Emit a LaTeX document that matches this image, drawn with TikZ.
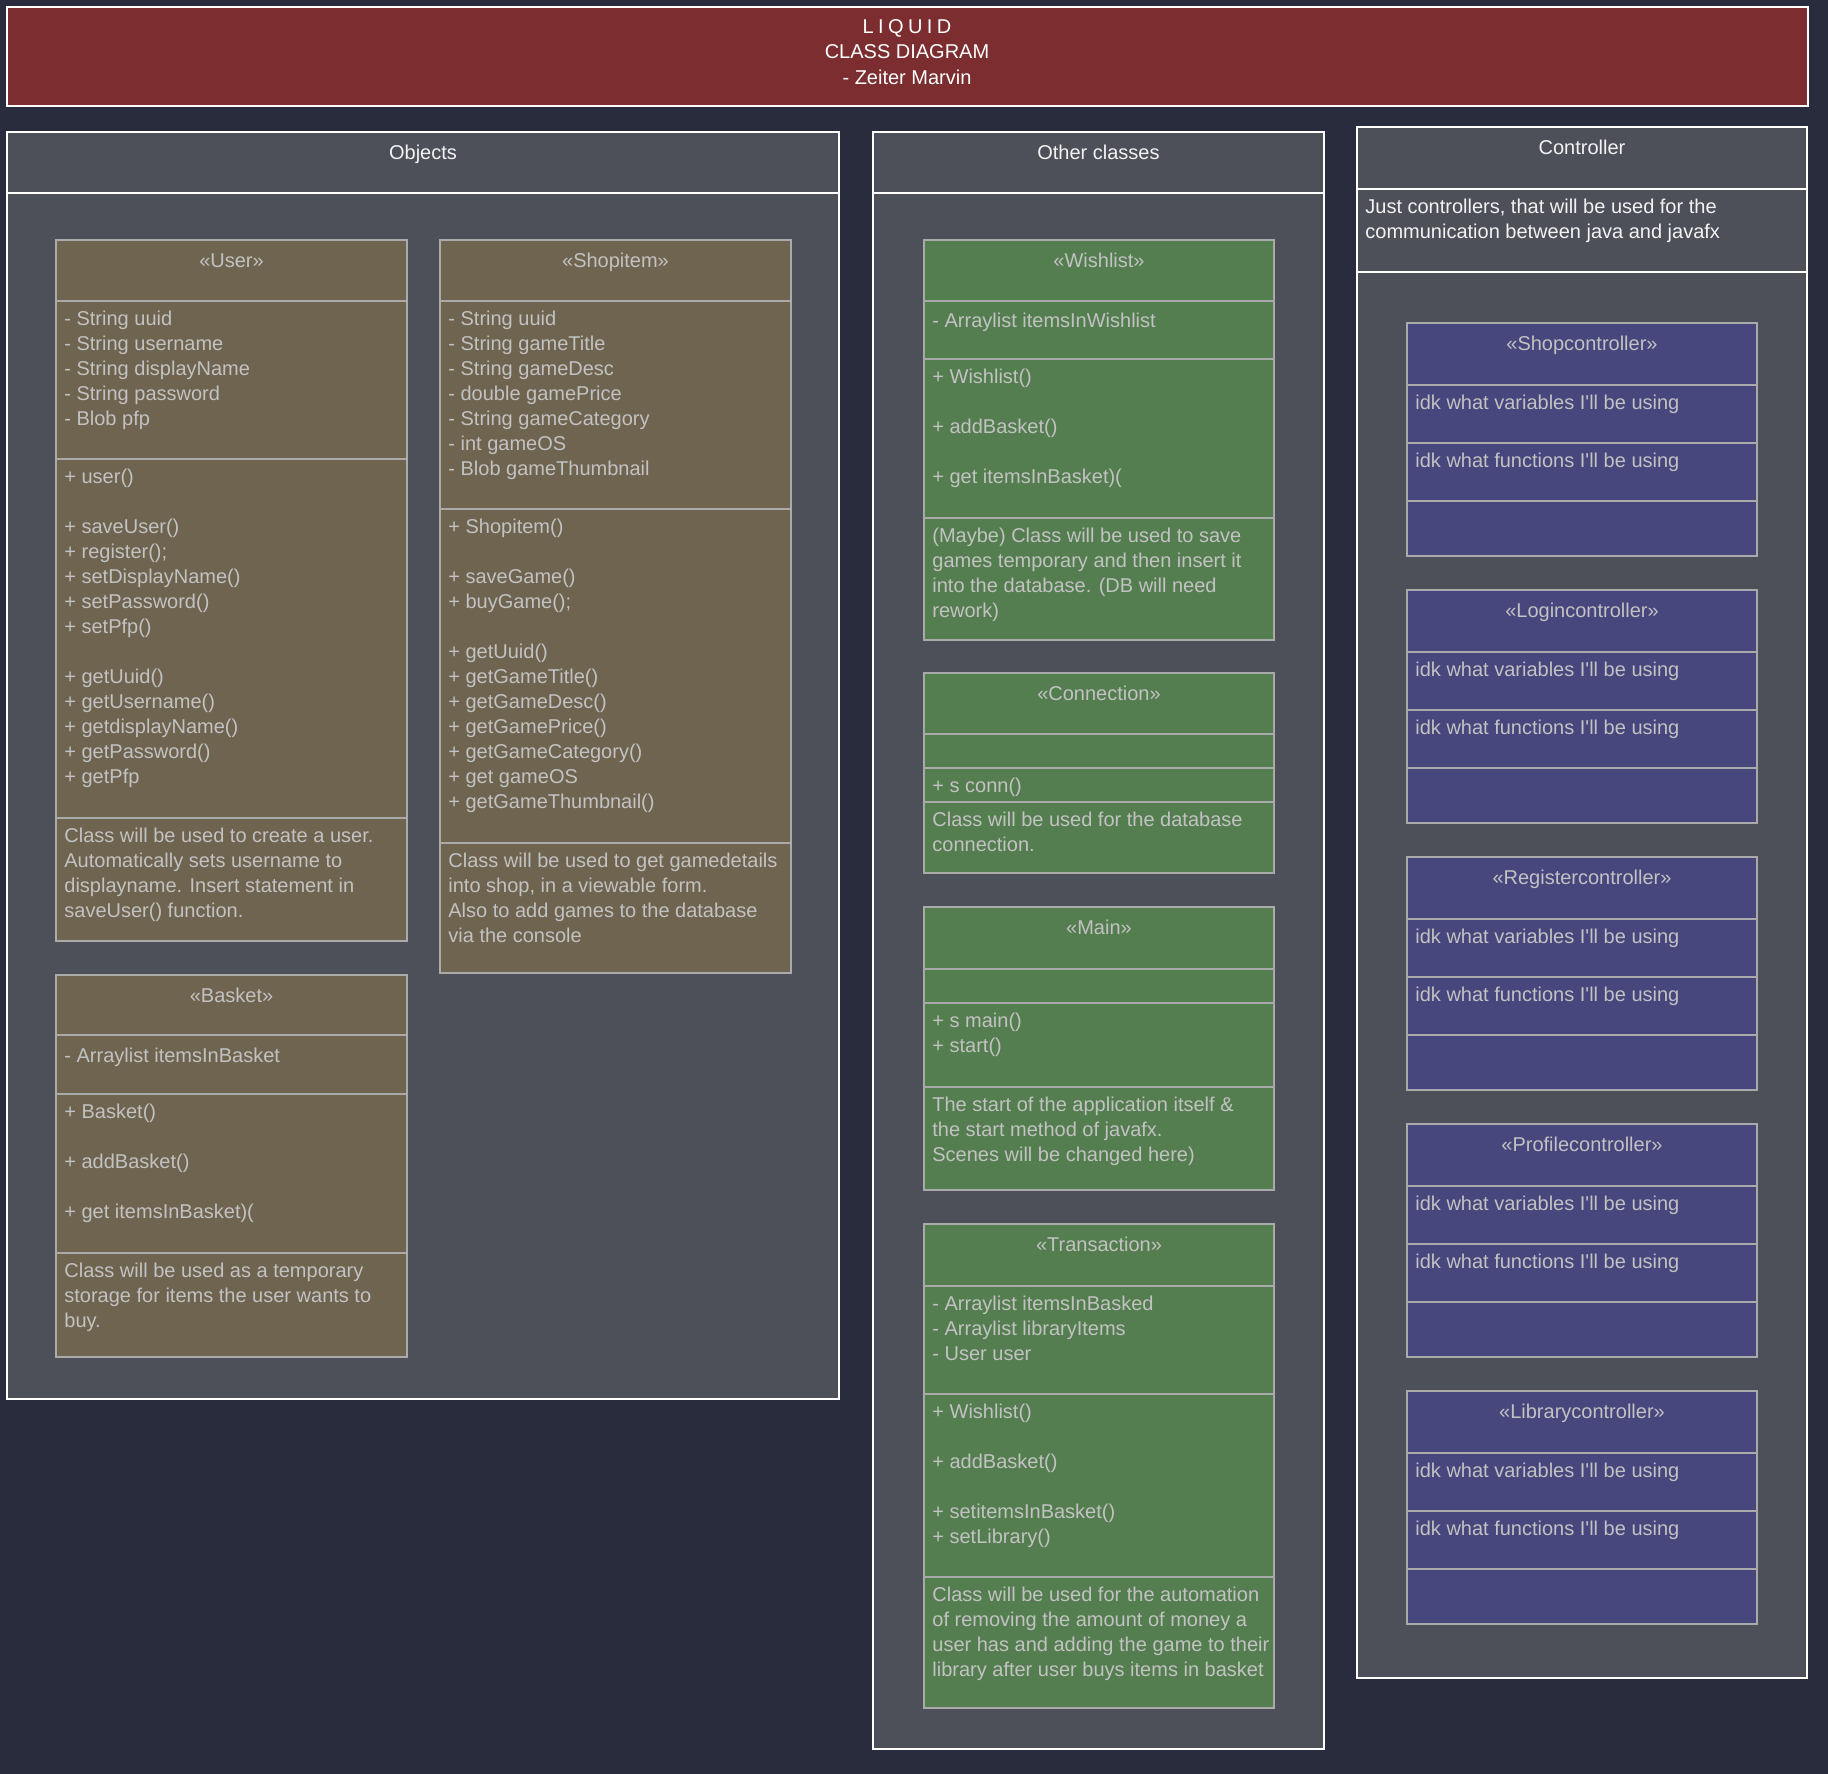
\documentclass[tikz,border=0pt]{standalone}
\usepackage{fontspec}
\setmainfont{Liberation Sans}
\newfontfamily\spacedfont[LetterSpace=22]{Liberation Sans}
\usepackage{tikz}

\definecolor{bgnavy}{RGB}{41,44,61}
\definecolor{poolgrey}{RGB}{78,80,89}
\definecolor{titlered}{RGB}{123,45,48}
\definecolor{objbrown}{RGB}{111,100,80}
\definecolor{othgreen}{RGB}{84,126,80}
\definecolor{ctrlblue}{RGB}{71,70,125}
\definecolor{boxgrey}{RGB}{170,170,170}
\definecolor{boxtext}{RGB}{194,194,194}
\definecolor{pooltext}{RGB}{242,242,242}

\begin{document}
\begin{tikzpicture}[x=0.5pt,y=-0.5pt,
            pool/.style={draw=white,line width=0.8pt,fill=poolgrey},
            poolline/.style={draw=white,line width=0.8pt},
            brownbox/.style={draw=boxgrey,line width=0.7pt,fill=objbrown},
            greenbox/.style={draw=boxgrey,line width=0.7pt,fill=othgreen},
            bluebox/.style={draw=boxgrey,line width=0.7pt,fill=ctrlblue},
            divider/.style={draw=boxgrey,line width=0.7pt},
            classname/.style={anchor=base,inner sep=0pt,text=boxtext,font=\fontsize{10}{12.5}\selectfont},
            classtext/.style={anchor=north west,inner sep=0pt,yshift=-1.75pt,align=left,text=boxtext,font=\fontsize{10}{12.5}\selectfont,execute at begin node=\strut},
            pooltitle/.style={anchor=base,inner sep=0pt,text=pooltext,font=\fontsize{10}{12.5}\selectfont},
            pooltext/.style={classtext,text=pooltext},
            titletext/.style={anchor=north,inner sep=0pt,yshift=-1.75pt,align=center,text=white,font=\fontsize{10}{12.75}\selectfont,execute at begin node=\strut}]
            \fill[bgnavy] (0,0) rectangle (1828,1774);
            \useasboundingbox (0,0) rectangle (1828,1774);

            % title bar
            \draw[draw=white,line width=0.8pt,fill=titlered] (7,7) rectangle (1808,106);
            \node[titletext] (title) at (907,15.5) {{\spacedfont LIQUID}\\CLASS DIAGRAM\\- Zeiter Marvin};

            % Objects
            \draw[pool] (7,132) rectangle (839,1399);
            \draw[poolline] (7,193) -- (839,193);
            \node[pooltitle] (objects) at (423,159.5) {Objects};

            \draw[brownbox] (56,240) rectangle (407,941);
            \draw[divider] (56,301) -- (407,301);
            \draw[divider] (56,459) -- (407,459);
            \draw[divider] (56,818) -- (407,818);
            \node[classname] (user) at (231.5,267) {«User»};
            \node[classtext] (userattr) at (64,307.5) {- String uuid\\- String username\\- String displayName\\- String password\\- Blob pfp};
            \node[classtext] (usermeth) at (64,465.5) {+ user()\\~\\+ saveUser()\\+ register();\\+ setDisplayName()\\+ setPassword()\\+ setPfp()\\~\\+ getUuid()\\+ getUsername()\\+ getdisplayName()\\+ getPassword()\\+ getPfp};
            \node[classtext] (usernote) at (64,824.5) {Class will be used to create a user.\\Automatically sets username to\\displayname. Insert statement in\\saveUser() function.};

            \draw[brownbox] (440,240) rectangle (791,973);
            \draw[divider] (440,301) -- (791,301);
            \draw[divider] (440,509) -- (791,509);
            \draw[divider] (440,843) -- (791,843);
            \node[classname] (shopitem) at (615.5,267) {«Shopitem»};
            \node[classtext] (shopitemattr) at (448,307.5) {- String uuid\\- String gameTitle\\- String gameDesc\\- double gamePrice\\- String gameCategory\\- int gameOS\\- Blob gameThumbnail};
            \node[classtext] (shopitemmeth) at (448,515.5) {+ Shopitem()\\~\\+ saveGame()\\+ buyGame();\\~\\+ getUuid()\\+ getGameTitle()\\+ getGameDesc()\\+ getGamePrice()\\+ getGameCategory()\\+ get gameOS\\+ getGameThumbnail()};
            \node[classtext] (shopitemnote) at (448,849.5) {Class will be used to get gamedetails\\into shop, in a viewable form.\\Also to add games to the database\\via the console};

            \draw[brownbox] (56,975) rectangle (407,1357);
            \draw[divider] (56,1035) -- (407,1035);
            \draw[divider] (56,1094) -- (407,1094);
            \draw[divider] (56,1253) -- (407,1253);
            \node[classname] (basket) at (231.5,1002) {«Basket»};
            \node[classtext] (basketattr) at (64,1041.5) {- Arraylist itemsInBasket};
            \node[classtext] (basketmeth) at (64,1100.5) {+ Basket()\\~\\+ addBasket()\\~\\+ get itemsInBasket)(};
            \node[classtext] (basketnote) at (64,1259.5) {Class will be used as a temporary\\storage for items the user wants to\\buy.};

            % Other classes
            \draw[pool] (873,132) rectangle (1324,1749);
            \draw[poolline] (873,193) -- (1324,193);
            \node[pooltitle] (other) at (1098.5,159.5) {Other classes};

            \draw[greenbox] (924,240) rectangle (1274,640);
            \draw[divider] (924,301) -- (1274,301);
            \draw[divider] (924,359) -- (1274,359);
            \draw[divider] (924,518) -- (1274,518);
            \node[classname] (wishlist) at (1099,267) {«Wishlist»};
            \node[classtext] (wishlistattr) at (932,306) {- Arraylist itemsInWishlist};
            \node[classtext] (wishlistmeth) at (932,365.5) {+ Wishlist()\\~\\+ addBasket()\\~\\+ get itemsInBasket)(};
            \node[classtext] (wishlistnote) at (932,524.5) {(Maybe) Class will be used to save\\games temporary and then insert it\\into the database. (DB will need\\rework)};

            \draw[greenbox] (924,673) rectangle (1274,873);
            \draw[divider] (924,734) -- (1274,734);
            \draw[divider] (924,768) -- (1274,768);
            \draw[divider] (924,802) -- (1274,802);
            \node[classname] (connection) at (1099,700) {«Connection»};
            \node[classtext] (connectionmeth) at (932,771) {+ s conn()};
            \node[classtext] (connectionnote) at (932,808) {Class will be used for the database\\connection.};

            \draw[greenbox] (924,907) rectangle (1274,1190);
            \draw[divider] (924,969) -- (1274,969);
            \draw[divider] (924,1003) -- (1274,1003);
            \draw[divider] (924,1087) -- (1274,1087);
            \node[classname] (main) at (1099,934) {«Main»};
            \node[classtext] (mainmeth) at (932,1009.5) {+ s main()\\+ start()};
            \node[classtext] (mainnote) at (932,1093.5) {The start of the application itself \&\\the start method of javafx.\\Scenes will be changed here)};

            \draw[greenbox] (924,1224) rectangle (1274,1708);
            \draw[divider] (924,1286) -- (1274,1286);
            \draw[divider] (924,1394) -- (1274,1394);
            \draw[divider] (924,1577) -- (1274,1577);
            \node[classname] (transaction) at (1099,1251) {«Transaction»};
            \node[classtext] (transactionattr) at (932,1292.5) {- Arraylist itemsInBasked\\- Arraylist libraryItems\\- User user};
            \node[classtext] (transactionmeth) at (932,1400.5) {+ Wishlist()\\~\\+ addBasket()\\~\\+ setitemsInBasket()\\+ setLibrary()};
            \node[classtext] (transactionnote) at (932,1583.5) {Class will be used for the automation\\of removing the amount of money a\\user has and adding the game to their\\library after user buys items in basket};

            % Controller
            \draw[pool] (1357,127) rectangle (1807,1678);
            \draw[poolline] (1357,189) -- (1807,189);
            \draw[poolline] (1357,272) -- (1807,272);
            \node[pooltitle] (controller) at (1582,154.5) {Controller};
            \node[pooltext] (controllernote) at (1365,195) {Just controllers, that will be used for the\\communication between java and javafx};

            \draw[bluebox] (1407,323) rectangle (1757,556);
            \draw[divider] (1407,385) -- (1757,385);
            \draw[divider] (1407,443) -- (1757,443);
            \draw[divider] (1407,501) -- (1757,501);
            \node[classname] (shopctrl) at (1582,350) {«Shopcontroller»};
            \node[classtext] (shopctrlvar) at (1415,388) {idk what variables I\textquotesingle ll be using};
            \node[classtext] (shopctrlfun) at (1415,446) {idk what functions I\textquotesingle ll be using};

            \draw[bluebox] (1407,590) rectangle (1757,823);
            \draw[divider] (1407,652) -- (1757,652);
            \draw[divider] (1407,710) -- (1757,710);
            \draw[divider] (1407,768) -- (1757,768);
            \node[classname] (loginctrl) at (1582,617) {«Logincontroller»};
            \node[classtext] (loginctrlvar) at (1415,655) {idk what variables I\textquotesingle ll be using};
            \node[classtext] (loginctrlfun) at (1415,713) {idk what functions I\textquotesingle ll be using};

            \draw[bluebox] (1407,857) rectangle (1757,1090);
            \draw[divider] (1407,919) -- (1757,919);
            \draw[divider] (1407,977) -- (1757,977);
            \draw[divider] (1407,1035) -- (1757,1035);
            \node[classname] (registerctrl) at (1582,884) {«Registercontroller»};
            \node[classtext] (registerctrlvar) at (1415,922) {idk what variables I\textquotesingle ll be using};
            \node[classtext] (registerctrlfun) at (1415,980) {idk what functions I\textquotesingle ll be using};

            \draw[bluebox] (1407,1124) rectangle (1757,1357);
            \draw[divider] (1407,1186) -- (1757,1186);
            \draw[divider] (1407,1244) -- (1757,1244);
            \draw[divider] (1407,1302) -- (1757,1302);
            \node[classname] (profilectrl) at (1582,1151) {«Profilecontroller»};
            \node[classtext] (profilectrlvar) at (1415,1189) {idk what variables I\textquotesingle ll be using};
            \node[classtext] (profilectrlfun) at (1415,1247) {idk what functions I\textquotesingle ll be using};

            \draw[bluebox] (1407,1391) rectangle (1757,1624);
            \draw[divider] (1407,1453) -- (1757,1453);
            \draw[divider] (1407,1511) -- (1757,1511);
            \draw[divider] (1407,1569) -- (1757,1569);
            \node[classname] (libraryctrl) at (1582,1418) {«Librarycontroller»};
            \node[classtext] (libraryctrlvar) at (1415,1456) {idk what variables I\textquotesingle ll be using};
            \node[classtext] (libraryctrlfun) at (1415,1514) {idk what functions I\textquotesingle ll be using};
\end{tikzpicture}
\end{document}
